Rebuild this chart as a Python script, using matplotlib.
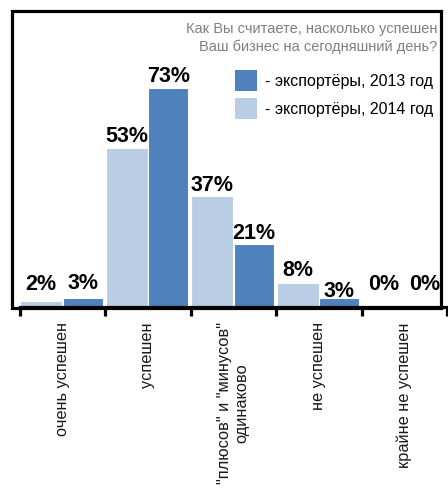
import matplotlib.pyplot as plt
from matplotlib.patches import Rectangle, Patch

plt.rcParams['font.family'] = ['Liberation Sans', 'DejaVu Sans']

categories = ['очень успешен', 'успешен', '"плюсов" и "минусов"\nодинаково',
              'не успешен', 'крайне не успешен']
vals_2014 = [2, 53, 37, 8, 0]
vals_2013 = [3, 73, 21, 3, 0]
# baseline of each value label above the bar top, in pixels
lift_2014 = [11, 6, 5, 7, 17]
lift_2013 = [9, 6, 5, 1, 17]

c2013 = '#4f81bd'
c2014 = '#b9cde5'

W, H = 448, 488
fig = plt.figure(figsize=(W / 100, H / 100), dpi=100)
ax = fig.add_axes([19.5 / W, (H - 307) / H, 427.5 / W, 297 / H])

x = range(len(categories))
xl = [i + 0.255 for i in x]
xd = [i + 0.74 for i in x]
ax.bar(xl, vals_2014, width=0.49, color=c2014, edgecolor='white', linewidth=0.8)
ax.bar(xd, vals_2013, width=0.47, color=c2013, edgecolor='white', linewidth=0.8)

for xs, vs, lifts in ((xl, vals_2014, lift_2014), (xd, vals_2013, lift_2013)):
    for xi, v, d in zip(xs, vs, lifts):
        ax.annotate(f'{v}%', (xi, v), xytext=(0, d), textcoords='offset pixels',
                    ha='center', va='baseline', fontsize=15.5, fontweight='bold')

ax.set_xlim(0, 5)
ax.set_ylim(0, 99)
for s in ('left', 'right', 'top'):
    ax.spines[s].set_visible(False)
ax.spines['bottom'].set_linewidth(2.3)
ax.set_yticks([])
ax.set_xticks(range(6))
ax.set_xticklabels([])
ax.tick_params(axis='x', which='major', length=6.5, width=2.3, direction='out')
ax.set_xticks([i + 0.5 for i in x], minor=True)
ax.set_xticklabels(categories, minor=True, rotation=90, va='top', ha='center',
                   multialignment='center', fontsize=11.8, color='#1a1a1a')
ax.tick_params(axis='x', which='minor', length=0, pad=11)

# outer frame of the chart area
fig.patches.append(Rectangle((11.5 / W, (H - 307.5) / H), 429.5 / W, 296.5 / H,
                             transform=fig.transFigure, fill=False,
                             edgecolor='black', linewidth=2.3, zorder=5))

fig.text(437 / W, (H - 22) / H,
         'Как Вы считаете, насколько успешен\nВаш бизнес на сегодняшний день?',
         ha='right', va='top', fontsize=10.5, color='#808080', linespacing=1.35)

handles = [Patch(facecolor=c2013), Patch(facecolor=c2014)]
fig.legend(handles, ['- экспортёры, 2013 год', '- экспортёры, 2014 год'],
           loc='upper left', bbox_to_anchor=(235 / W, (H - 70) / H),
           frameon=False, fontsize=11.5, handlelength=1.4, handleheight=1.65,
           handletextpad=0.45, labelspacing=0.45, borderpad=0, borderaxespad=0)

fig.savefig('out.png', dpi=100)
